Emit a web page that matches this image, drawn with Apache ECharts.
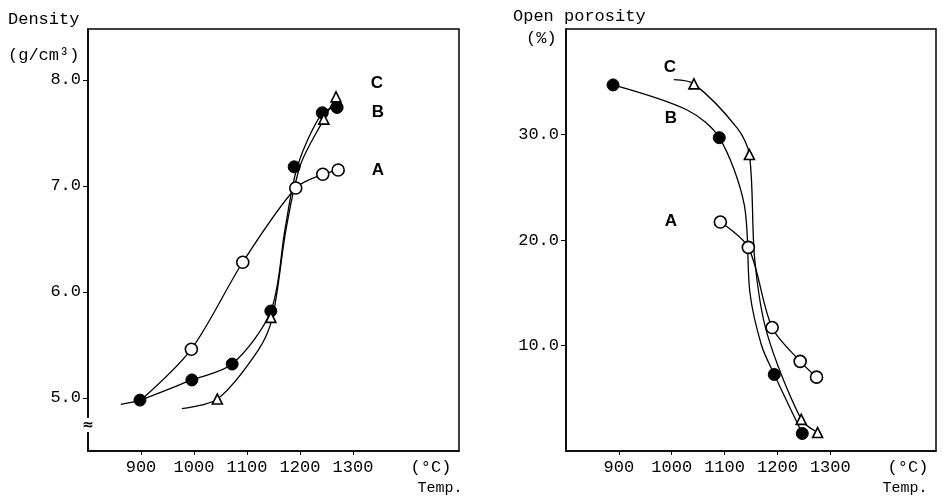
<!DOCTYPE html>
<html>
<head>
<meta charset="utf-8">
<script src="https://cdn.jsdelivr.net/npm/echarts@6/dist/echarts.min.js"></script>
<style>
  html, body { margin: 0; padding: 0; background: #fff; }
  #chart { width: 943px; height: 497px; }
</style>
</head>
<body>
<div id="chart"></div>
<script>
// tick labels
var tempTicks = [900, 1000, 1100, 1200, 1300];
var densityTicks = [5, 6, 7, 8];
var porosityTicks = [10, 20, 30];

// density (g/cm3) measured points, [temp, value]
var densA = [[995, 5.46], [1092, 6.28], [1192, 6.98], [1243, 7.11], [1272, 7.15]];
var densB = [[898, 4.98], [996, 5.17], [1072, 5.32], [1145, 5.82], [1189, 7.18], [1242, 7.69], [1270, 7.74]];
var densC = [[1044, 4.99], [1145, 5.76], [1245, 7.63], [1268, 7.84]];

// density hand drawn curves
var densCurveA = [[900, 4.98], [995, 5.46], [1092, 6.28], [1192, 6.98], [1243, 7.11], [1272, 7.15]];
var densCurveB = [[862, 4.94], [898, 4.98], [996, 5.17], [1072, 5.32], [1145, 5.82], [1172, 6.6], [1196, 7.2], [1242, 7.69], [1270, 7.74]];
var densCurveC = [[977, 4.9], [1044, 4.99], [1121, 5.45], [1148, 5.76], [1174, 6.6], [1201, 7.2], [1245, 7.63], [1268, 7.84]];

// open porosity (%) measured points
var poroA = [[1092, 21.7], [1145, 19.3], [1190, 11.7], [1243, 8.5], [1274, 7.0]];
var poroB = [[889, 34.7], [1090, 29.7], [1194, 7.25], [1247, 1.66]];
var poroC = [[1042, 34.8], [1147, 28.1], [1245, 3.0], [1276, 1.75]];

// open porosity hand drawn curves
var poroCurveA = [[1092, 21.7], [1145, 19.3], [1190, 11.7], [1243, 8.5], [1274, 7.0]];
var poroCurveB = [[889, 34.7], [1030, 32.3], [1090, 29.7], [1137, 23.4], [1148, 15.0], [1170, 10.0], [1194, 7.25], [1247, 1.66]];
var poroCurveC = [[1004, 35.2], [1042, 34.8], [1124, 30.6], [1147, 28.1], [1157, 18.2], [1180, 11.2], [1245, 3.0], [1276, 1.75]];

var monoFont = '"Liberation Mono", "DejaVu Sans Mono", monospace';
var myChart = echarts.init(document.getElementById('chart'));

function xAxisOpt(idx) {
	return {
		type: 'value',
		gridIndex: idx,
		min: 800,
		max: 1500,
		axisLine: { show: true, lineStyle: { color: '#000', width: 1.5 } },
		axisTick: { show: true, customValues: tempTicks, length: 4, lineStyle: { color: '#000' } },
		axisLabel: {
			customValues: tempTicks, color: '#000', fontFamily: monoFont, fontSize: 17, margin: 8,
			formatter: function (v) { return String(v); }
		},
		splitLine: { show: false }
	};
}

function yAxisOpt(idx, min, max, ticks) {
	return {
		type: 'value',
		gridIndex: idx,
		min: min,
		max: max,
		axisLine: { show: true, lineStyle: { color: '#000', width: 1.5 } },
		axisTick: { show: true, customValues: ticks, length: 5, lineStyle: { color: '#000' } },
		axisLabel: {
			customValues: ticks, color: '#000', fontFamily: monoFont, fontSize: 17, margin: 7,
			formatter: function (v) { return v.toFixed(1); }
		},
		splitLine: { show: false }
	};
}

function curve(idx, data) {
	return {
		type: 'line', xAxisIndex: idx, yAxisIndex: idx,
		data: data, smooth: 0.3,
		symbol: 'none', silent: true,
		lineStyle: { color: '#000', width: 1.3 }, z: 2
	};
}

function marks(idx, data, kind) {
	var s = {
		type: 'scatter', xAxisIndex: idx, yAxisIndex: idx, data: data, z: 5,
		symbol: 'circle', symbolSize: 12,
		itemStyle: { color: '#000', borderColor: '#000', borderWidth: 1, opacity: 1 }
	};
	if (kind == 'open') {
		s.itemStyle = { color: '#fff', borderColor: '#000', borderWidth: 1.6, opacity: 1 };
	} else if (kind == 'tri') {
		s.symbol = 'triangle';
		s.symbolSize = 10;
		s.itemStyle = { color: '#fff', borderColor: '#000', borderWidth: 1.6, opacity: 1 };
	}
	return s;
}

function txt(x, y, str, opts) {
	var style = {
		text: str, fill: '#000', font: '17px ' + monoFont,
		textAlign: 'left', textVerticalAlign: 'middle'
	};
	for (var k in opts) style[k] = opts[k];
	return { type: 'text', x: x, y: y, style: style, z: 10 };
}

var letterFont = 'bold 17px "Liberation Sans", Arial, sans-serif';

var option = {
	backgroundColor: '#fff',
	animation: false,
	grid: [
		{ left: 88, top: 29, width: 371, height: 422, show: true, borderColor: '#000', borderWidth: 1.5 },
		{ left: 566, top: 29, width: 370, height: 422, show: true, borderColor: '#000', borderWidth: 1.5 }
	],
	xAxis: [xAxisOpt(0), xAxisOpt(1)],
	yAxis: [yAxisOpt(0, 4.5, 8.48, densityTicks), yAxisOpt(1, 0, 40, porosityTicks)],
	series: [
		curve(0, densCurveA), curve(0, densCurveB), curve(0, densCurveC),
		marks(0, densA, 'open'), marks(0, densB, 'filled'), marks(0, densC, 'tri'),
		curve(1, poroCurveA), curve(1, poroCurveB), curve(1, poroCurveC),
		marks(1, poroA, 'open'), marks(1, poroB, 'filled'), marks(1, poroC, 'tri')
	],
	graphic: [
		// axis titles
		txt(8, 19, 'Density'),
		txt(8, 55, '(g/cm³)'),
		txt(513, 16, 'Open porosity'),
		txt(526, 38, '(%)'),
		txt(431, 467, '(°C)', { textAlign: 'center' }),
		txt(440, 488, 'Temp.', { textAlign: 'center', font: '15px ' + monoFont }),
		txt(908, 467, '(°C)', { textAlign: 'center' }),
		txt(905, 488, 'Temp.', { textAlign: 'center', font: '15px ' + monoFont }),
		// axis break
		txt(88, 425, '≈', { textAlign: 'center', font: 'bold 14px "DejaVu Sans"', backgroundColor: '#fff' }),
		// curve letters
		txt(377, 83, 'C', { textAlign: 'center', font: letterFont }),
		txt(378, 112, 'B', { textAlign: 'center', font: letterFont }),
		txt(378, 170, 'A', { textAlign: 'center', font: letterFont }),
		txt(670, 67, 'C', { textAlign: 'center', font: letterFont }),
		txt(671, 118, 'B', { textAlign: 'center', font: letterFont }),
		txt(671, 221, 'A', { textAlign: 'center', font: letterFont })
	]
};
myChart.setOption(option);
</script>
</body>
</html>
